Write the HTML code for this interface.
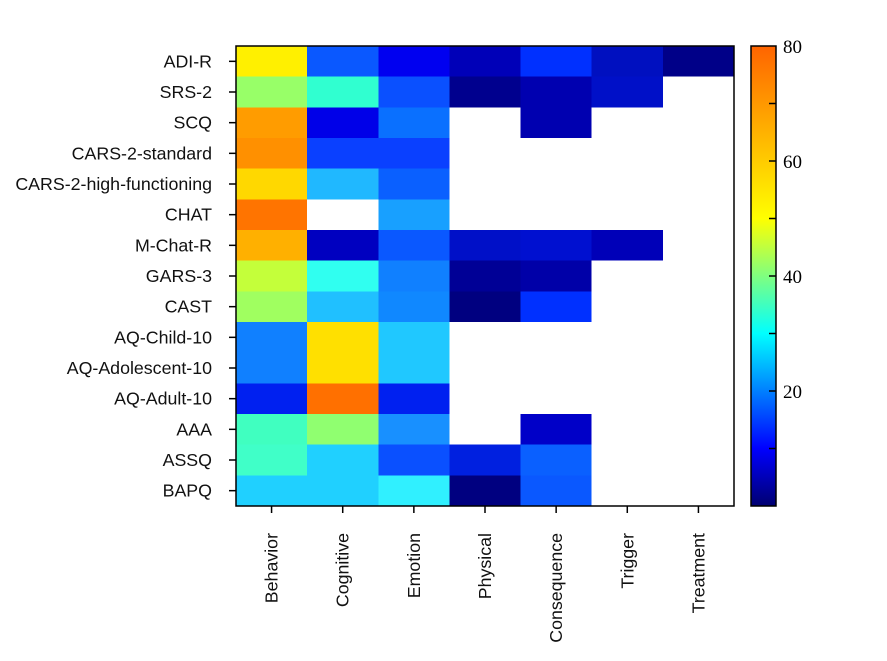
<!DOCTYPE html>
<html><head><meta charset="utf-8"><style>body{margin:0;background:#fff}</style></head>
<body>
<svg width="887" height="656" xmlns="http://www.w3.org/2000/svg" font-family="Liberation Sans, sans-serif">
<defs>
<linearGradient id="jet" x1="0" y1="1" x2="0" y2="0">
<stop offset="0" stop-color="#000070"/>
<stop offset="0.125" stop-color="#0000ff"/>
<stop offset="0.375" stop-color="#00ffff"/>
<stop offset="0.625" stop-color="#ffff00"/>
<stop offset="1" stop-color="#ff6400"/>
</linearGradient>
</defs>
<g id="cells" shape-rendering="crispEdges"></g>
<rect x="236" y="46" width="498" height="460" fill="none" stroke="#000" stroke-width="1.5"/>
<g id="lab" font-size="17.8" fill="#111"></g>
<rect x="751" y="46" width="25" height="460" fill="url(#jet)" stroke="#000" stroke-width="1.5"/>
<g stroke="#000" stroke-width="1.5" id="cbt"></g>
<g font-family="Liberation Serif, serif" font-size="19" fill="#000">
<text x="783" y="53">80</text>
<text x="783" y="168">60</text>
<text x="783" y="283">40</text>
<text x="783" y="398">20</text>
</g>
<script>
var rows=["ADI-R","SRS-2","SCQ","CARS-2-standard","CARS-2-high-functioning","CHAT","M-Chat-R","GARS-3","CAST","AQ-Child-10","AQ-Adolescent-10","AQ-Adult-10","AAA","ASSQ","BAPQ"];
var cols=["Behavior","Cognitive","Emotion","Physical","Consequence","Trigger","Treatment"];
var W="#ffffff";
var c=[
["#fff000","#0a58ff","#0000f0","#0000b8","#0030ff","#0010c0","#000088"],
["#98ff68","#30ffd0","#0a50ff","#00008e","#0000b0","#0010c8",W],
["#ff9c00","#0000e8","#0a70ff",W,"#0000b0",W,W],
["#ff9000","#0a40ff","#0a40ff",W,W,W,W],
["#ffd800","#20b8ff","#0a60ff",W,W,W,W],
["#ff7400",W,"#18a0ff",W,W,W,W],
["#ffb000","#0000c0","#0a58ff","#0010c8","#0010d0","#0000b8",W],
["#c4ff3a","#30fff0","#1080ff","#000096","#0000a8",W,W],
["#a0ff60","#20c0ff","#1088ff","#000080","#0030ff",W,W],
["#1080ff","#ffe000","#20c8ff",W,W,W,W],
["#1080ff","#ffe000","#20c8ff",W,W,W,W],
["#0020f0","#ff7000","#0020f0",W,W,W,W],
["#40ffc0","#90ff70","#1890ff",W,"#0000c8",W,W],
["#40ffc8","#20d0ff","#0a50ff","#0020e0","#0a60ff",W,W],
["#20d0ff","#20d0ff","#30f0ff","#000080","#0a58ff",W,W]];
var ns="http://www.w3.org/2000/svg",g=document.getElementById("cells"),L=document.getElementById("lab"),T=document.getElementById("cbt");
var cw=498/7,rh=460/15;
function el(t,a,p,txt){var e=document.createElementNS(ns,t);for(var k in a)e.setAttribute(k,a[k]);if(txt)e.textContent=txt;p.appendChild(e);return e;}
for(var i=0;i<15;i++){for(var j=0;j<7;j++){el("rect",{x:236+j*cw,y:46+i*rh,width:cw+0.5,height:rh+0.5,fill:c[i][j]},g);}
var y=46+(i+0.5)*rh;
el("line",{x1:229,y1:y,x2:236,y2:y,stroke:"#000","stroke-width":1.5},L);
el("text",{x:212,y:y+6,"text-anchor":"end"},L,rows[i]);}
for(var j=0;j<7;j++){var x=236+(j+0.5)*cw;
el("line",{x1:x,y1:506,x2:x,y2:513,stroke:"#000","stroke-width":1.5},L);
el("text",{x:0,y:0,"text-anchor":"end",transform:"translate("+(x+6)+",533) rotate(-90)"},L,cols[j]);}
for(var v=10;v<80;v+=10){var yy=506-v*460/80;el("line",{x1:769,y1:yy,x2:776,y2:yy},T);}
</script>
</svg>
</body></html>
